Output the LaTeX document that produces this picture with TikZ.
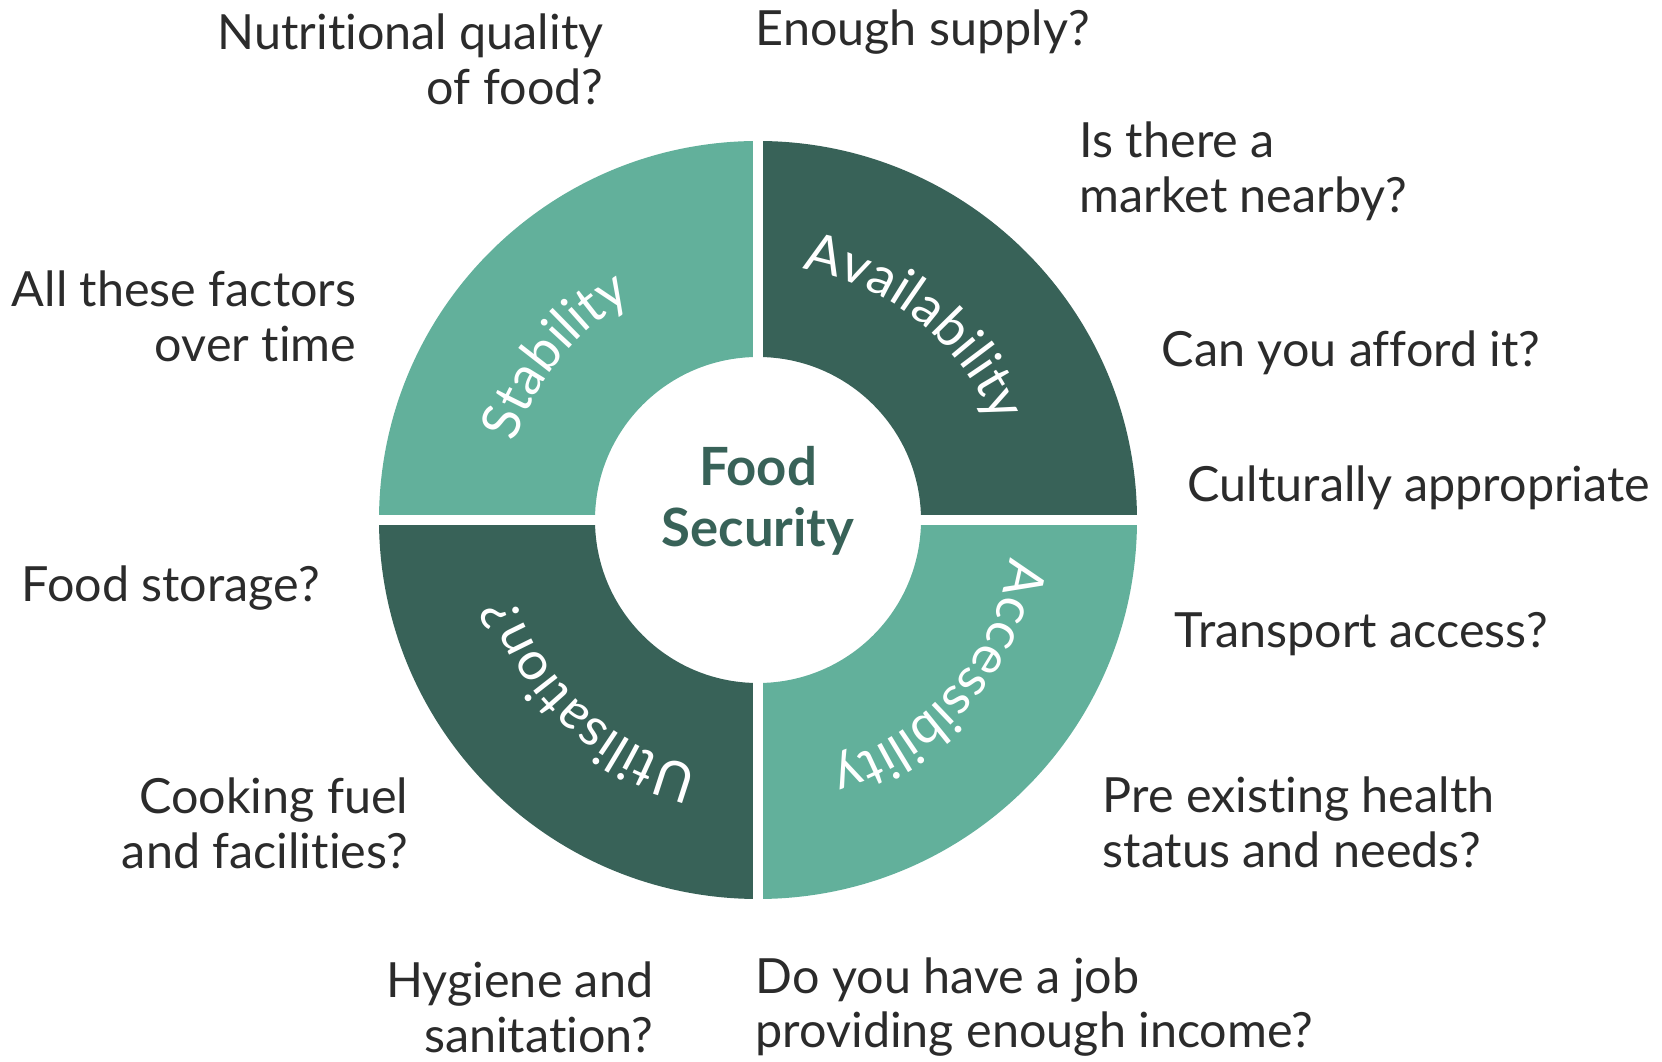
\documentclass[tikz,border=0pt]{standalone}
\usepackage{fontspec}
\setmainfont{Lato}[Ligatures={NoCommon}]
\usepackage{xcolor}
\usepackage{tikz}
\usetikzlibrary{decorations.text}

\definecolor{ringdark}{HTML}{386258}
\definecolor{ringlight}{HTML}{62B09B}
\definecolor{labelgrey}{HTML}{2B2B2B}

\begin{document}
\begin{tikzpicture}[
    question/.style={text=labelgrey,font=\fontsize{13.8}{15.6}\selectfont,inner sep=0pt},
    gap/.style={white,line width=1mm}]
    \useasboundingbox (0,0) rectangle (16.62,10.62);
    \begin{scope}[shift={(7.58,5.42)}]
        \foreach \a/\col in {0/ringdark,90/ringlight,180/ringdark,270/ringlight}
            \fill[\col] (\a:3.79) arc[start angle=\a,end angle=\a+90,radius=3.79]
                -- (\a+90:1.63) arc[start angle=\a+90,end angle=\a,radius=1.63] -- cycle;
        \draw[gap] (-3.9,0) -- (-1.6,0);
        \draw[gap] (1.6,0) -- (3.9,0);
        \draw[gap] (0,1.6) -- (0,3.9);
        \draw[gap] (0,-1.6) -- (0,-3.9);
        \foreach \m/\word in {141/Stability,51/Availability,-41/Accessibility,227/Utilisation?}
            \path[decorate,decoration={text along path,text align=center,
                text={|\color{white}\fontsize{15.2}{18}\selectfont|\word}}]
                (\m+45:2.55) arc[start angle=\m+45,end angle=\m-45,radius=2.55];
        \node[text=ringdark,font=\bfseries\fontsize{15}{17.3}\selectfont,align=center] (centre) at (0,0.19) {Food\\Security};
    \end{scope}
    \node[question,anchor=east,align=right] (nutri) at (6.04,10.03) {Nutritional quality\\of food?};
    \node[question,anchor=west] (supply) at (7.55,10.30) {Enough supply?};
    \node[question,anchor=west,align=left] (market) at (10.79,8.91) {Is there a\\market nearby?};
    \node[question,anchor=west] (afford) at (11.61,7.09) {Can you afford it?};
    \node[question,anchor=west] (culture) at (11.87,5.74) {Culturally appropriate};
    \node[question,anchor=west] (transport) at (11.74,4.28) {Transport access?};
    \node[question,anchor=west,align=left] (health) at (11.02,2.40) {Pre existing health\\status and needs?};
    \node[question,anchor=west,align=left] (job) at (7.55,0.55) {Do you have a job\\providing enough income?};
    \node[question,anchor=east,align=right] (hygiene) at (6.54,0.55) {Hygiene and\\sanitation?};
    \node[question,anchor=east,align=right] (cooking) at (4.09,2.39) {Cooking fuel\\and facilities?};
    \node[question,anchor=west] (storage) at (0.21,4.74) {Food storage?};
    \node[question,anchor=east,align=right] (time) at (3.57,7.46) {All these factors\\over time};
\end{tikzpicture}
\end{document}
